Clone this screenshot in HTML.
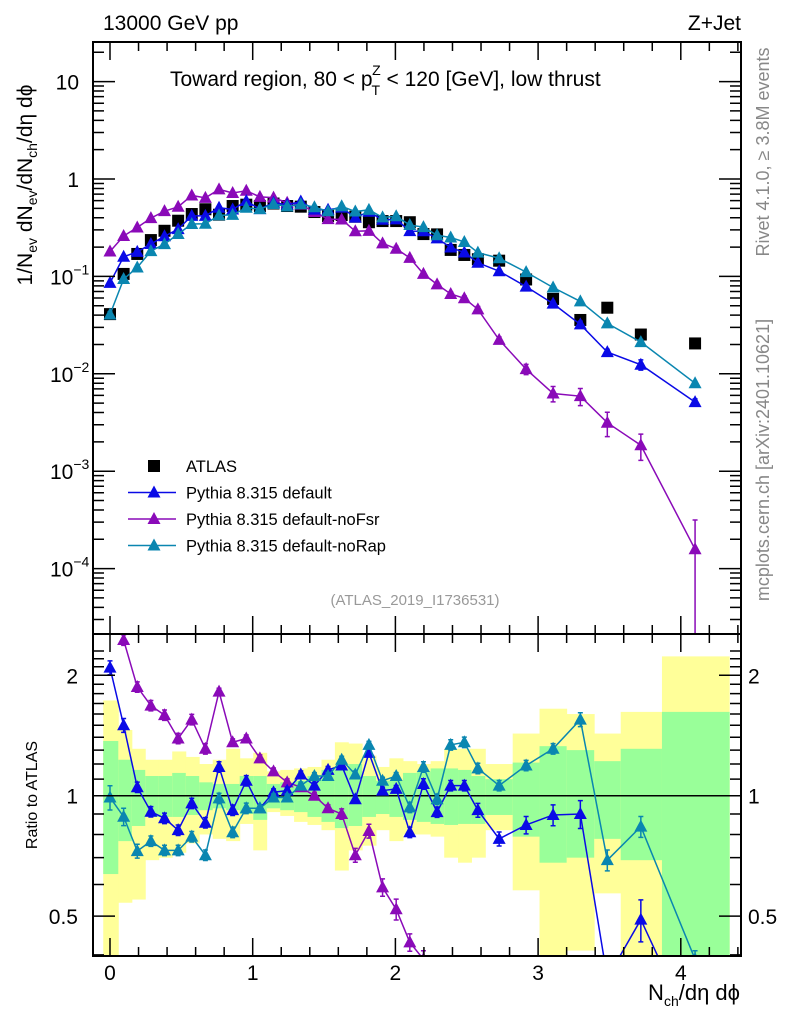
<!DOCTYPE html>
<html><head><meta charset="utf-8"><style>
html,body{margin:0;padding:0;background:#fff;overflow:hidden;}
svg{display:block;font-family:"Liberation Sans",Arial,sans-serif;}
</style></head><body>
<svg id="plot" width="786" height="1024" viewBox="0 0 786 1024">
<defs>
<clipPath id="clipMain"><rect x="93" y="42" width="648" height="592"/></clipPath>
<clipPath id="clipRatio"><rect x="93" y="634" width="648" height="322"/></clipPath>
</defs>
<g id="bands" clip-path="url(#clipRatio)"></g>
<g id="ratioMarks" clip-path="url(#clipRatio)"></g>
<g id="mainMarks" clip-path="url(#clipMain)"></g>
<g id="axes"></g>
<text x="103" y="30" font-size="21">13000 GeV pp</text>
<text x="741" y="30" font-size="21" text-anchor="end">Z+Jet</text>
<text x="170" y="86" font-size="21">Toward region, 80 &lt; p<tspan font-size="14" dx="-1" dy="9">T</tspan><tspan font-size="14" dx="-8" dy="-20">Z</tspan><tspan dy="11"> &lt; 120 [GeV], low thrust</tspan></text>
<text x="415" y="605" font-size="15" fill="#999" text-anchor="middle">(ATLAS_2019_I1736531)</text>
<text transform="translate(769,152) rotate(-90)" font-size="18" fill="#888" text-anchor="middle">Rivet 4.1.0, ≥ 3.8M events</text>
<text transform="translate(769,460) rotate(-90)" font-size="18" fill="#888" text-anchor="middle">mcplots.cern.ch [arXiv:2401.10621]</text>
<text transform="translate(32,185) rotate(-90)" font-size="21" text-anchor="middle">1/N<tspan font-size="14" dy="5">ev</tspan><tspan dy="-5"> dN</tspan><tspan font-size="14" dy="5">ev</tspan><tspan dy="-5">/dN</tspan><tspan font-size="14" dy="5">ch</tspan><tspan dy="-5">/dη dϕ</tspan></text>
<text transform="translate(37,795) rotate(-90)" font-size="16" text-anchor="middle">Ratio to ATLAS</text>
<text x="740" y="1000" font-size="22" text-anchor="end">N<tspan font-size="14" dy="6">ch</tspan><tspan dy="-6">/dη dϕ</tspan></text>
<g id="legend"></g>
</svg>
<script>
const xVals=[0,0.0955,0.191,0.2865,0.382,0.4775,0.573,0.6685,0.764,0.8595,0.955,1.0505,1.146,1.2415,1.337,1.4325,1.528,1.6235,1.719,1.8145,1.91,2.0055,2.101,2.1965,2.292,2.3875,2.483,2.578,2.727,2.916,3.105,3.296,3.485,3.72,4.10];
const binEdges=[-0.0475,0.058,0.153,0.247,0.342,0.436,0.531,0.625,0.72,0.814,0.909,1.004,1.098,1.193,1.29,1.384,1.482,1.576,1.67,1.767,1.864,1.958,2.053,2.15,2.247,2.342,2.439,2.533,2.63,2.822,3.01,3.2,3.393,3.579,3.868,4.339];
const atlas=[0.041,0.106,0.17,0.236,0.294,0.373,0.437,0.489,0.43,0.528,0.545,0.528,0.56,0.528,0.52,0.458,0.417,0.427,0.41,0.36,0.37,0.37,0.36,0.272,0.27,0.187,0.166,0.15,0.145,0.093,0.0587,0.0357,0.0477,0.0253,0.0205];
const ratioDefault=[2.09,1.5,1.05,0.912,0.878,0.82,0.957,0.856,1.18,0.92,1.09,0.93,1.02,1.03,1.13,1.06,1.16,1.19,0.98,1.28,1.03,1.04,0.81,1.07,0.91,1.06,1.06,0.92,0.78,0.845,0.895,0.9,0.35,0.49,0.25];
const ratioNoFsr=[4.4,2.45,1.87,1.68,1.59,1.39,1.55,1.31,1.82,1.36,1.39,1.24,1.15,1.08,1.05,1.0,0.93,0.9,0.71,0.816,0.59,0.52,0.43,0.39,0.307,0.353,0.359,0.306,0.154,0.12,0.107,0.165,0.066,0.073,0.0077];
const ratioNoRap=[0.99,0.886,0.727,0.77,0.73,0.73,0.79,0.71,0.985,0.81,0.93,0.93,0.99,0.99,1.06,1.12,1.12,1.23,1.13,1.34,1.09,1.12,0.935,1.18,0.98,1.34,1.36,1.17,1.06,1.19,1.31,1.55,0.69,0.837,0.39];
const errDefault=[0.04,0.04,0.03,0.03,0.03,0.03,0.03,0.03,0.03,0.03,0.03,0.02,0.02,0.02,0.02,0.02,0.02,0.02,0.02,0.02,0.02,0.02,0.03,0.03,0.03,0.03,0.03,0.04,0.04,0.05,0.06,0.08,0.07,0.12,0.08];
const errNoFsr=[0.03,0.03,0.03,0.03,0.03,0.03,0.03,0.03,0.02,0.02,0.02,0.02,0.02,0.02,0.02,0.02,0.02,0.03,0.04,0.04,0.05,0.06,0.05,0.05,0.05,0.05,0.06,0.07,0.07,0.12,0.18,0.2,0.28,0.3,1.0];
const errNoRap=[0.07,0.05,0.04,0.03,0.03,0.03,0.03,0.03,0.03,0.03,0.03,0.02,0.02,0.02,0.02,0.02,0.02,0.02,0.02,0.02,0.02,0.02,0.03,0.03,0.03,0.03,0.03,0.03,0.03,0.03,0.03,0.04,0.06,0.06,0.05];
const greenHi=[1.37,1.23,1.16,1.12,1.12,1.14,1.12,1.08,1.07,1.07,1.12,1.12,1.07,1.08,1.09,1.12,1.16,1.16,1.2,1.12,1.09,1.09,1.14,1.15,1.17,1.17,1.16,1.12,1.10,1.21,1.33,1.30,1.22,1.31,1.62];
const greenLo=[0.637,0.77,0.84,0.885,0.885,0.885,0.895,0.92,0.93,0.92,0.9,0.87,0.93,0.92,0.91,0.885,0.86,0.83,0.84,0.885,0.9,0.885,0.87,0.86,0.85,0.845,0.85,0.85,0.895,0.79,0.68,0.70,0.78,0.69,0.3];
const yellowHi=[1.73,1.46,1.31,1.23,1.23,1.29,1.25,1.2,1.23,1.31,1.24,1.28,1.15,1.16,1.17,1.18,1.23,1.36,1.35,1.26,1.18,1.24,1.22,1.2,1.22,1.31,1.31,1.31,1.2,1.43,1.65,1.6,1.43,1.62,2.23];
const yellowLo=[0.3,0.54,0.55,0.69,0.7,0.72,0.76,0.8,0.78,0.77,0.85,0.73,0.91,0.89,0.86,0.845,0.82,0.65,0.73,0.75,0.82,0.77,0.8,0.8,0.79,0.7,0.68,0.7,0.82,0.58,0.3,0.41,0.57,0.3,0.3];
const mainYTicks=["10","1","10","10","10","10"];
const mainYExp=[null,null,"−1","−2","−3","−4"];
const mainYVals=[10,1,0.1,0.01,0.001,0.0001];
const ratioTicks=[0.5,1,2];
const xTicks=[0,1,2,3,4];

const NS="http://www.w3.org/2000/svg";
const X=v=>110+142.7*v;
const YM=v=>179-97.4*Math.log10(v);
const YR=r=>795.7-400*Math.log10(r);
const L=93,R=741,MT=42,MB=634,RB=956;
function mk(tag,attrs,parent){const e=document.createElementNS(NS,tag);for(const k in attrs)e.setAttribute(k,attrs[k]);parent.appendChild(e);return e;}
const axes=document.getElementById('axes');
const bands=document.getElementById('bands');
const rm=document.getElementById('ratioMarks');
const mm=document.getElementById('mainMarks');

for(let i=0;i<xVals.length;i++){
  const x0=X(binEdges[i]),x1=X(binEdges[i+1]);
  const y=mk('rect',{x:x0,y:YR(yellowHi[i]),width:x1-x0+0.5,height:YR(yellowLo[i])-YR(yellowHi[i]),fill:'#ffff99'},bands);
  
  
  const g=mk('rect',{x:x0,y:YR(greenHi[i]),width:x1-x0+0.5,height:YR(greenLo[i])-YR(greenHi[i]),fill:'#99ff99'},bands);
  
  
}
const one=mk('line',{x1:L,x2:R,y1:YR(1),y2:YR(1),stroke:'#000','stroke-width':1.5},rm);



function tri(parent,x,y,color,name){
  const p=mk('polygon',{points:`${x},${y-7} ${x-6.5},${y+5} ${x+6.5},${y+5}`,fill:color},parent);
  
  
}
function series(ratio,err,color,name){
  let ptsR=[],ptsM=[];
  for(let i=0;i<xVals.length;i++){
    const x=X(xVals[i]);
    ptsR.push(x+','+YR(ratio[i]));
    ptsM.push(x+','+YM(ratio[i]*atlas[i]));
  }
  const lr=mk('polyline',{points:ptsR.join(' '),fill:'none',stroke:color,'stroke-width':1.5},rm);
  
  
  const lm=mk('polyline',{points:ptsM.join(' '),fill:'none',stroke:color,'stroke-width':1.5},mm);
  
  
  for(let i=0;i<xVals.length;i++){
    const x=X(xVals[i]);
    const r=ratio[i],e=err[i];
    const lo=Math.max(r*(1-e),1e-6),hi=r*(1+e);
    const eb=mk('path',{d:`M${x},${YR(hi)}V${YR(lo)}M${x-2.5},${YR(hi)}h5M${x-2.5},${YR(lo)}h5`,stroke:color,'stroke-width':1.5,fill:'none'},rm);
    
    
    tri(rm,x,YR(r),color,name+'-ratio-point');
    const v=r*atlas[i];
    if(e>0.04){
      const vl=Math.max(v*(1-e),1e-8);
      const em=mk('path',{d:`M${x},${YM(v*(1+e))}V${YM(vl)}M${x-2.5},${YM(v*(1+e))}h5M${x-2.5},${YM(vl)}h5`,stroke:color,'stroke-width':1.5,fill:'none'},mm);
      
      
    }
    tri(mm,x,YM(v),color,name+'-point');
  }
}
for(let i=0;i<xVals.length;i++){
  const s=mk('rect',{x:X(xVals[i])-6,y:YM(atlas[i])-6,width:12,height:12,fill:'#000'},mm);
  
  
}
series(ratioNoFsr,errNoFsr,'#8a0ab8','pythia-nofsr');
series(ratioDefault,errDefault,'#0a0ae6','pythia-default');
series(ratioNoRap,errNoRap,'#0a86b0','pythia-norap');

for(const [t,b,nm] of [[MT,MB,'main-frame'],[MB,RB,'ratio-frame']]){
  const f=mk('rect',{x:L,y:t,width:R-L,height:b-t,fill:'none',stroke:'#000','stroke-width':2},axes);
  
  
}
let td='';
for(let v=-0.0;v<=4.4;v=Math.round((v+0.2)*10)/10){
  const x=X(v);const major=Math.abs(v-Math.round(v))<1e-6;const len=major?18:9;
  td+=`M${x},${MB}v${-len}M${x},${MT}v${len}M${x},${RB}v${-len}M${x},${MB}v${len}`;
}
for(let d=-5;d<=1;d++){
  for(let m=1;m<10;m++){
    const v=m*Math.pow(10,d);const y=YM(v);
    if(y<MT||y>MB)continue;const len=m==1?22:11;
    td+=`M${L},${y}h${len}M${R},${y}h${-len}`;
  }
}
for(let r=0.4;r<=2.3;r=Math.round((r+0.1)*10)/10){
  const y=YR(r);if(y<MB||y>RB)continue;
  const major=ratioTicks.includes(r);const len=major?22:11;
  td+=`M${L},${y}h${len}M${R},${y}h${-len}`;
}
const tk=mk('path',{d:td,stroke:'#000','stroke-width':1.5,fill:'none'},axes);


for(const v of xTicks){
  const t=mk('text',{x:X(v),y:980,'font-size':21,'text-anchor':'middle'},axes);t.textContent=v;
  
  
}
for(let i=0;i<mainYVals.length;i++){
  const t=mk('text',{x:mainYExp[i]?60:79,y:YM(mainYVals[i])+8,'font-size':21,'text-anchor':mainYExp[i]?'middle':'end'},axes);
  t.textContent=mainYTicks[i];
  if(mainYExp[i]){t.setAttribute('x',50);t.setAttribute('text-anchor','start');const s=mk('tspan',{'font-size':14,dy:-10},t);s.textContent=mainYExp[i];}
  
  
}
for(const r of ratioTicks){
  for(const [x,a] of [[78,'end'],[748,'start']]){
    const t=mk('text',{x:x,y:YR(r)+8,'font-size':21,'text-anchor':a},axes);t.textContent=r;
    
    
  }
}
const leg=document.getElementById('legend');
const legNames=['ATLAS','Pythia 8.315 default','Pythia 8.315 default-noFsr','Pythia 8.315 default-noRap'];
const legColors=['#000','#0a0ae6','#8a0ab8','#0a86b0'];
for(let i=0;i<4;i++){
  const y=466+i*26.5;
  if(i==0){const s=mk('rect',{x:148,y:y-6,width:12,height:12,fill:'#000'},leg);}
  else{const l=mk('line',{x1:128,x2:176,y1:y,y2:y,stroke:legColors[i],'stroke-width':1.5},leg);tri(leg,154,y,legColors[i],'legend-marker');}
  const t=mk('text',{x:186,y:y+6,'font-size':16.5},leg);t.textContent=legNames[i];
  
  
}
</script>
</body></html>
